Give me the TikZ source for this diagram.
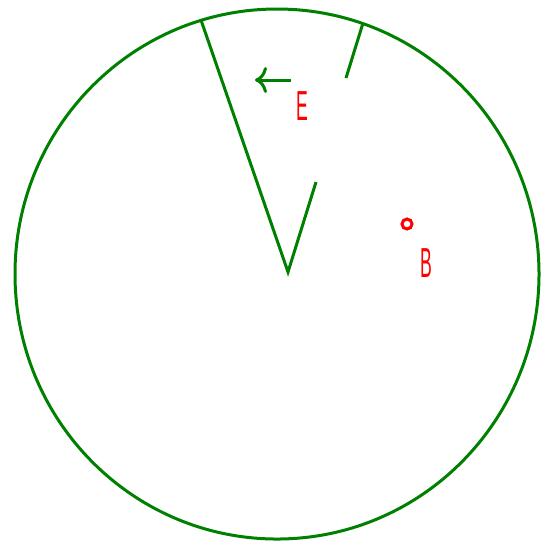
\documentclass[tikz,border=0pt]{standalone}
\usepackage{fontspec}
\setmainfont{Liberation Sans}
\usetikzlibrary{positioning, calc, arrows.meta}

\definecolor{wallgreen}{RGB}{0,128,0}
\tikzset{
    wall/.style={draw=wallgreen, line width=1.5pt, line cap=round},
    lbl/.style={text=red, inner sep=0pt, font=\fontsize{21}{21}\selectfont},
}
\newcommand{\narrow}[1]{\scalebox{0.42}[1]{#1}}

\begin{document}
\begin{tikzpicture}[x=0.5pt, y=-0.5pt, >=To]
    \useasboundingbox (0,0) rectangle (549,548);

    \draw[wall] (277,274) ellipse (262 and 265);

    % cone walls
    \coordinate (apex) at (288,272);
    \coordinate (wl) at (201,20);
    \coordinate (wr1) at (316,182);
    \coordinate (wr2) at (346,78);
    \coordinate (wr3) at (363,23);
    \draw[wall, line cap=butt] (wl) -- (apex) -- (wr1);
    \draw[wall, line cap=butt] (wr2) -- (wr3);

    \coordinate (a0) at (291,80);
    \coordinate (a1) at (255,80);
    \draw[wall, line cap=butt, arrows={-To[length=6pt, width=13pt, line width=1.5pt]}] (a0) -- (a1);

    \node[lbl] (E) at (302.5,106) {\narrow{E}};
    \node[lbl] (B) at (426.5,263) {\narrow{B}};
    \node[draw=red, line width=1.5pt, circle, minimum size=5pt, inner sep=0pt] (bdot) at (407,224) {};
\end{tikzpicture}
\end{document}
